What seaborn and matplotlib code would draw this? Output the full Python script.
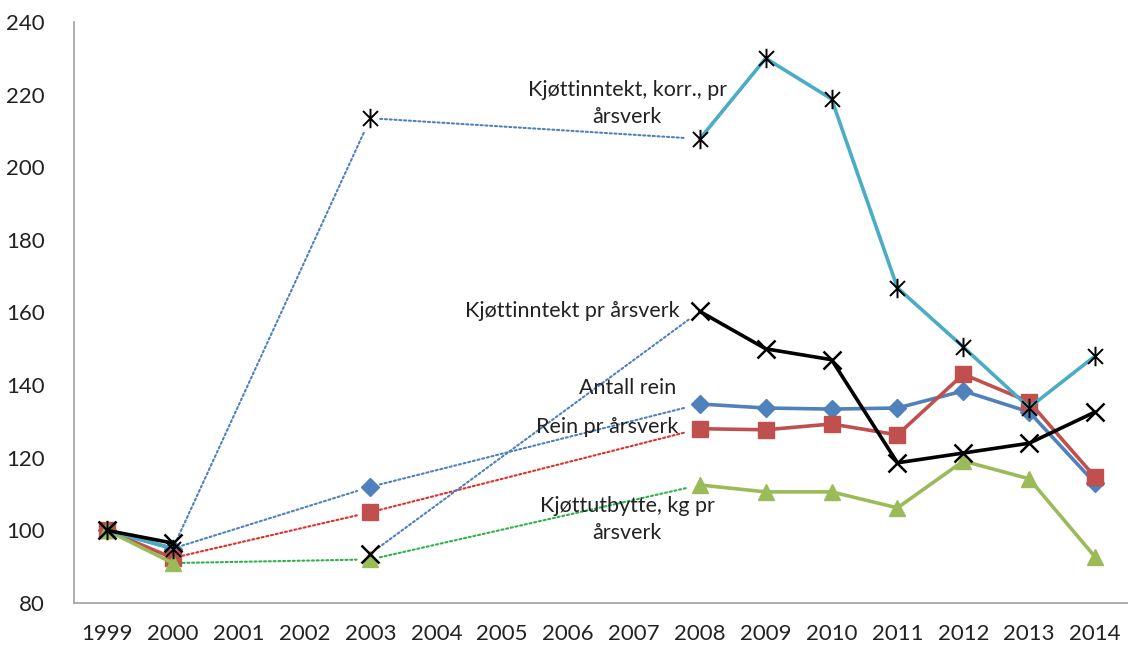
import numpy as np
import pandas as pd
import matplotlib
matplotlib.use("Agg")
import matplotlib.pyplot as plt
from matplotlib.path import Path
import seaborn as sns

# Data (index, 1999 = 100), None = no data that year
years = [1999, 2000, 2001, 2002, 2003, 2004, 2005, 2006, 2007,
         2008, 2009, 2010, 2011, 2012, 2013, 2014]

antall_rein = [100, 95, None, None, 112, None, None, None, None,
               134.8, 133.7, 133.4, 133.7, 138.4, 132.6, 113]
rein_pr_aarsverk = [100, 92.4, None, None, 105, None, None, None, None,
                    128, 127.7, 129.3, 126.3, 143, 135.4, 114.7]
kjottutbytte = [100, 91, None, None, 92, None, None, None, None,
                112.5, 110.6, 110.6, 106.2, 119.1, 114.2, 92.7]
kjottinntekt_korr = [100, 95, None, None, 213.5, None, None, None, None,
                     207.8, 230, 218.8, 166.8, 150.5, 133.8, 148]
kjottinntekt = [100, 96.5, None, None, 93.6, None, None, None, None,
                160.3, 150, 147, 118.6, 121.3, 124, 132.6]

names = ["Antall rein", "Rein pr årsverk", "Kjøttutbytte, kg pr\nårsverk",
         "Kjøttinntekt, korr., pr\nårsverk", "Kjøttinntekt pr årsverk"]

df = pd.DataFrame({
    "year": years,
    names[0]: antall_rein,
    names[1]: rein_pr_aarsverk,
    names[2]: kjottutbytte,
    names[3]: kjottinntekt_korr,
    names[4]: kjottinntekt,
})
df["pos"] = range(len(years))

# Excel-like star marker (x with a vertical bar)
star = Path([(-1, -1), (1, 1), (-1, 1), (1, -1), (0, -1.3), (0, 1.3)],
            [Path.MOVETO, Path.LINETO, Path.MOVETO, Path.LINETO, Path.MOVETO, Path.LINETO])

styles = {
    names[0]: dict(color="#4F81BD", marker="D", mfc="#4F81BD", mec="#4F81BD", ms=9),
    names[1]: dict(color="#C0504D", marker="s", mfc="#C0504D", mec="#C0504D", ms=11),
    names[2]: dict(color="#9BBB59", marker="^", mfc="#9BBB59", mec="#9BBB59", ms=12),
    names[3]: dict(color="#4BACC6", marker=star, mfc="none", mec="black", ms=14, mew=1.4),
    names[4]: dict(color="black", marker="x", mfc="none", mec="black", ms=13, mew=1.8),
}

# dotted connectors across the gaps: (series, from, to, colour)
connectors = [
    (names[0], 2000, 2003, "#4F81BD"), (names[0], 2003, 2008, "#4F81BD"),
    (names[1], 2000, 2003, "#E0302A"), (names[1], 2003, 2008, "#E0302A"),
    (names[2], 2000, 2003, "#2DB34A"), (names[2], 2003, 2008, "#2DB34A"),
    (names[3], 2000, 2003, "#4F81BD"), (names[3], 2003, 2008, "#4F81BD"),
    (names[4], 2003, 2008, "#4F81BD"),
]

# label positions (x in category units, y in data units)
label_pos = {
    names[3]: (7.9, 217.5, "center"),
    names[4]: (8.7, 160.3, "right"),
    names[0]: (7.9, 139.2, "center"),
    names[1]: (8.68, 128.5, "right"),
    names[2]: (7.9, 103.1, "center"),
}

sns.set_style("white")
plt.rcParams["font.family"] = ["Lato", "DejaVu Sans"]

fig = plt.figure(figsize=(11.28, 6.46), dpi=100)
ax = fig.add_axes([74 / 1128, 1 - 603 / 646, 1054 / 1128, 581 / 646])

for name in [names[0], names[1], names[2], names[3], names[4]]:
    s = df[name]
    st = styles[name]
    # split into runs of consecutive values
    run_id = s.isna().cumsum()
    for _, seg in df[s.notna()].groupby(run_id[s.notna()]):
        sns.lineplot(x=seg["pos"], y=seg[name], ax=ax, color=st["color"], lw=2.6,
                     marker=st["marker"], markersize=st["ms"], markerfacecolor=st["mfc"],
                     markeredgecolor=st["mec"], markeredgewidth=st.get("mew", 1),
                     legend=False, zorder=3)

for name, y0, y1, col in connectors:
    x0, x1 = years.index(y0), years.index(y1)
    ax.annotate("", xy=(x1, df[name][x1]), xytext=(x0, df[name][x0]),
                arrowprops=dict(arrowstyle="-", color=col, linestyle=(0, (1, 1.3)),
                                lw=1.5, shrinkA=7, shrinkB=10), zorder=2)

for name, (lx, ly, ha) in label_pos.items():
    ax.text(lx, ly, name, ha=ha, va="center", multialignment="center",
            fontsize=15.5, color="#222222", linespacing=1.45, zorder=4)

ax.set_xlim(-0.5, len(years) - 0.5)
ax.set_ylim(80, 240)
ax.set_yticks(range(80, 241, 20))
ax.set_xticks(df["pos"])
ax.set_xticklabels(years)
ax.set_xticks(np.arange(-0.5, len(years), 1), minor=True)
ax.tick_params(axis="x", which="major", length=0, pad=15, labelsize=16, labelcolor="#222222")
ax.tick_params(axis="x", which="minor", length=6, color="#A0A0A0", width=1, direction="out")
ax.tick_params(axis="y", length=6, color="#A0A0A0", width=1, direction="out", pad=15,
               labelsize=16, labelcolor="#222222")
ax.set_xlabel("")
ax.set_ylabel("")
for side in ["top", "right"]:
    ax.spines[side].set_visible(False)
for side in ["left", "bottom"]:
    ax.spines[side].set_color("#A0A0A0")
    ax.spines[side].set_linewidth(1.2)

fig.savefig("out.png", dpi=100)
